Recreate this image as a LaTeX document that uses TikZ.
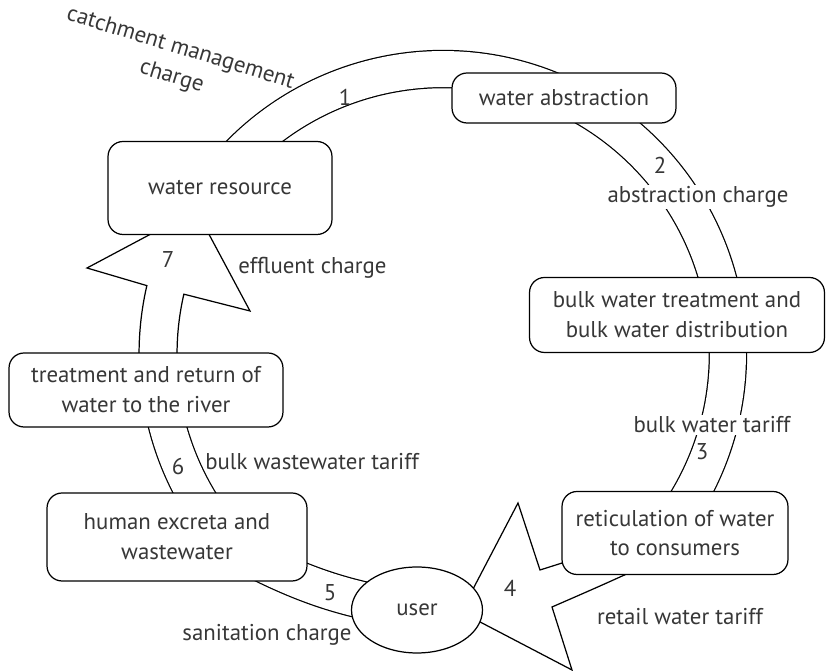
\documentclass[tikz,border=0pt]{standalone}
\usepackage{fontspec}
\setmainfont{PT Sans}
\usetikzlibrary{shapes.geometric,backgrounds,calc}
\definecolor{textgray}{RGB}{55,55,55}

\begin{document}
\begin{tikzpicture}[
  x=0.02cm, y=-0.02cm,
  font=\fontsize{13}{17}\selectfont,
  every node/.style={align=center, text=textgray},
  stagebox/.style={rectangle, rounded corners=0.3cm,
    draw=black, fill=white, line width=0.7pt, inner sep=0pt},
  userell/.style={ellipse, draw=black, fill=white, line width=0.7pt,
    minimum width=2.62cm, minimum height=1.72cm, inner sep=0pt},
  band/.style={draw=black, line width=0.7pt, double=white, double distance=0.72cm},
  flowarrow/.style={draw=black, fill=white, line width=0.7pt, line join=miter},
  lbl/.style={fill=white, inner sep=1pt},
  num/.style={inner sep=1pt},
]
\useasboundingbox (0,0) rectangle (826,671);

% Stages of the cycle
\node[stagebox, minimum width=4.48cm, minimum height=1.86cm] (wres) at (220,188) {water resource};
\node[stagebox, minimum width=4.48cm, minimum height=1.0cm]  (wabs) at (564,98)  {water abstraction};
\node[stagebox, minimum width=5.9cm,  minimum height=1.5cm]  (bulk) at (677,315)
  {bulk water treatment and\\bulk water distribution};
\node[stagebox, minimum width=4.52cm, minimum height=1.66cm] (retic) at (675,533)
  {reticulation of water\\to consumers};
\node[userell] (user) at (417,610) {user};
\node[stagebox, minimum width=5.2cm,  minimum height=1.76cm] (human) at (177,537)
  {human excreta and\\wastewater};
\node[stagebox, minimum width=5.48cm, minimum height=1.48cm] (treat) at (146,390)
  {treatment and return of\\water to the river};

% Ring pieces and flow arrows
\coordinate (ring) at (443,354);
\coordinate (s5a)  at (230,547);
\begin{scope}[on background layer]
  \draw[band] ($(ring)+(140:5.7cm)$) arc[start angle=140, end angle=65, radius=5.7cm];
  \draw[band] ($(ring)+(63:5.7cm)$)  arc[start angle=63, end angle=8, radius=5.7cm];
  \draw[band] ($(ring)+(3:5.7cm)$)   arc[start angle=3, end angle=-38, radius=5.7cm];
  \draw[band] (s5a) to[out=-28, in=172] (user.center);
  \draw[band] ($(ring)+(188:5.7cm)$) arc[start angle=188, end angle=215, radius=5.7cm];
  % arrow 7 into the water resource
  \draw[flowarrow] ($(ring)+(188:6.08cm)$) arc[start angle=188, end angle=167, radius=6.08cm]
    -- (87,268) -- (196,210) -- (250,311)
    -- ($(ring)+(167:5.32cm)$) arc[start angle=167, end angle=188, radius=5.32cm] -- cycle;
  % arrow 4 into the user
  \draw[flowarrow] (600,551) -- (540,570) -- (518,503) -- (461,612) -- (572,670)
    -- (552,607) .. controls (575,597) and (598,587) .. (620,577) -- (640,568) -- cycle;
\end{scope}

% Charges and numbers
\node[rotate=-17] (catch) at (176,63) {catchment management\\charge};
\node[num] (n1) at (345,97) {1};
\node[num] (n2) at (660,165) {2};
\node[lbl] (abscharge) at (698,197) {abstraction charge};
\node[lbl] (bulktariff) at (712,425) {bulk water tariff};
\node[num] (n3) at (702,452) {3};
\node[num] (n4) at (510,588) {4};
\node (retail) at (680,617) {retail water tariff};
\node[num] (n5) at (330,593) {5};
\node (sanit) at (267,635) {sanitation charge};
\node[num] (n6) at (178,467) {6};
\node[anchor=west, inner sep=0pt] (wwtariff) at (205,462) {bulk wastewater tariff};
\node[num] (n7) at (168,260) {7};
\node[anchor=west, inner sep=0pt] (effluent) at (238,268) {effluent charge};
\end{tikzpicture}
\end{document}
